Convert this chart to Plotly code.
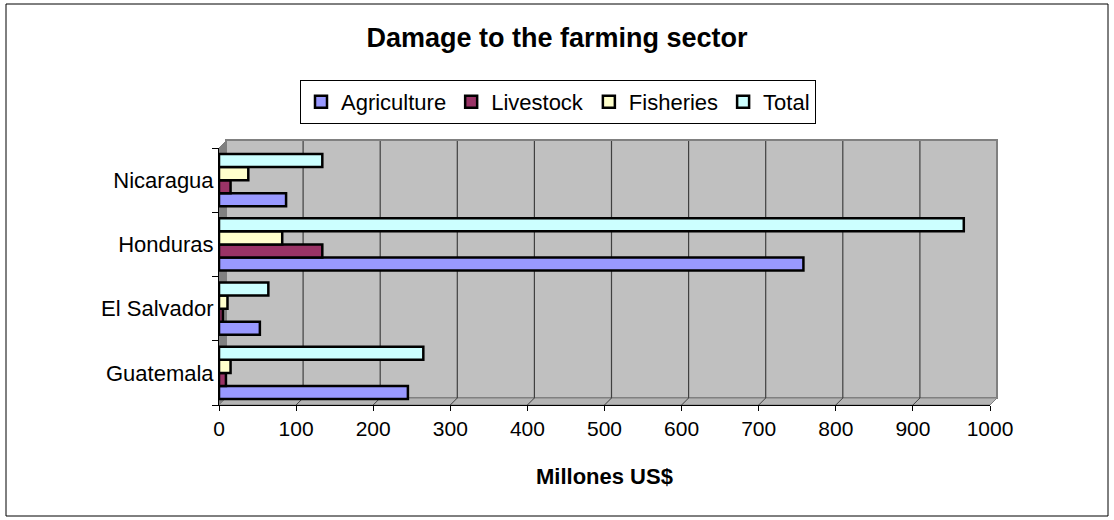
import plotly.graph_objects as go

countries = ["Guatemala", "El Salvador", "Honduras", "Nicaragua"]
agriculture = [245, 53, 758, 87]
livestock = [9, 5, 134, 15]
fisheries = [15, 11, 82, 38]
total = [265, 64, 966, 134]
x_ticks = list(range(0, 1001, 100))

series = [
    ("Agriculture", agriculture, "#9999FF"),
    ("Livestock", livestock, "#993366"),
    ("Fisheries", fisheries, "#FFFFCC"),
    ("Total", total, "#CCFFFF"),
]

W, H = 1114, 520
L, R, T, B = 219, 124, 148, 115
pw, ph = W - L - R, H - T - B
D = 7  # 3D depth offset in px


def px_x(p):
    return (p - L) / pw


def px_y(p):
    return (H - B - p) / ph


fig = go.Figure()
for name, vals, col in series:
    fig.add_trace(go.Bar(
        y=countries, x=vals, name=name, orientation="h",
        marker=dict(color=col, line=dict(color="black", width=2.5)),
    ))

shapes = [
    # outer chart border
    dict(type="rect", xref="paper", yref="paper",
         x0=px_x(6), x1=px_x(1108), y0=px_y(516), y1=px_y(4),
         line=dict(color="black", width=1), fillcolor="rgba(0,0,0,0)", layer="below"),
    # back wall
    dict(type="rect", xref="paper", yref="paper",
         x0=px_x(L + D), x1=px_x(L + pw + D), y0=px_y(H - B - D), y1=px_y(T - D - 1),
         line=dict(color="#808080", width=2), fillcolor="#C0C0C0", layer="below"),
    # left wall
    dict(type="path", xref="paper", yref="paper", layer="below",
         path=f"M {px_x(L)} {px_y(T)} L {px_x(L + D)} {px_y(T - D)} L {px_x(L + D)} {px_y(H - B - D)} L {px_x(L)} {px_y(H - B)} Z",
         fillcolor="#808080", line=dict(color="#808080", width=1)),
    # floor
    dict(type="path", xref="paper", yref="paper", layer="below",
         path=f"M {px_x(L)} {px_y(H - B)} L {px_x(L + D)} {px_y(H - B - D)} L {px_x(L + pw + D)} {px_y(H - B - D)} L {px_x(L + pw)} {px_y(H - B)} Z",
         fillcolor="#B4B4B4", line=dict(color="#808080", width=1)),
]
# gridlines on the back wall, anchored at tick values and shifted by the depth
for v in x_ticks[1:-1]:
    shapes.append(dict(type="line", xref="x", yref="paper", xsizemode="pixel", xanchor=v,
                       x0=D, x1=D, y0=px_y(H - B - D), y1=px_y(T - D),
                       line=dict(color="#404040", width=1.2), layer="below"))
# slanted tick connectors on the floor
for v in x_ticks[1:]:
    shapes.append(dict(type="line", xref="x", yref="paper", xsizemode="pixel", xanchor=v,
                       x0=0, x1=D, y0=0, y1=px_y(H - B - D),
                       line=dict(color="#404040", width=1), layer="below"))

fig.update_layout(
    width=W, height=H,
    margin=dict(l=L, r=R, t=T, b=B),
    paper_bgcolor="white",
    plot_bgcolor="rgba(0,0,0,0)",
    font=dict(family="Liberation Sans, Arial, sans-serif", size=21, color="black"),
    barmode="group",
    bargap=0.19,
    bargroupgap=0,
    title=dict(text="<b>Damage to the farming sector</b>", x=0.5, xref="container",
               y=1 - 38 / H, yref="container", yanchor="middle",
               font=dict(size=27)),
    legend=dict(orientation="h", x=px_x(558), xanchor="center", y=px_y(80), yanchor="top",
                bordercolor="black", borderwidth=1, font=dict(size=22),
                traceorder="normal", itemwidth=30, tracegroupgap=0),
    showlegend=True,
    xaxis=dict(range=[0, 1000], tickvals=x_ticks, showgrid=False,
               ticks="outside", ticklen=5, tickcolor="black", showline=True, linecolor="black",
               linewidth=1, zeroline=False, tickfont=dict(size=21)),
    yaxis=dict(ticks="outside", ticklen=6, tickcolor="black", tickson="boundaries",
               showline=True, linecolor="black", linewidth=1, tickfont=dict(size=22),
               range=[-0.5, 3.5]),
    shapes=shapes,
    annotations=[
        dict(text="<b>Millones US$</b>", xref="paper", yref="paper",
             x=0.5, y=px_y(476), showarrow=False, font=dict(size=22),
             xanchor="center", yanchor="middle"),
    ],
)

fig.write_html("out.html")
